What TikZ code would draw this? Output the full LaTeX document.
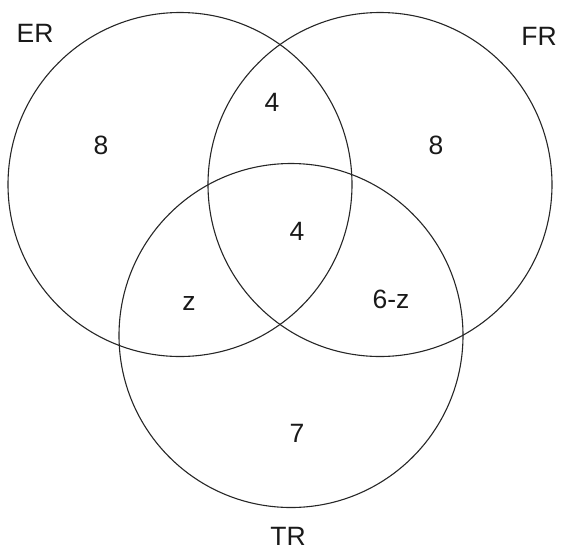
\documentclass[tikz,border=0pt]{standalone}
\usepackage{fontspec}
\setmainfont{Liberation Sans}
\begin{document}
\begin{tikzpicture}[x=1pt,y=-1pt,
  setcircle/.style={circle, draw=black!85, line width=1.1pt, minimum size=344pt, inner sep=0pt},
  lbl/.style={anchor=base, inner sep=0pt, font=\fontsize{26.5}{30}\selectfont, text=black!90}]
\useasboundingbox (0,0) rectangle (563,550);
\node[setcircle] (ER) at (180,184.5) {};
\node[setcircle] (FR) at (380,184.5) {};
\node[setcircle] (TR) at (291,335.5) {};
\node[lbl] (lER) at (35,42) {ER};
\node[lbl] (lFR) at (539,45) {FR};
\node[lbl] (lTR) at (288,545.5) {TR};
\node[lbl] (nE) at (101,154) {8};
\node[lbl] (nF) at (436,154) {8};
\node[lbl] (nEF) at (272,111) {4};
\node[lbl] (nEFT) at (297,240) {4};
\node[lbl] (nET) at (189,310) {z};
\node[lbl] (nFT) at (391,308) {6-z};
\node[lbl] (nT) at (297,442) {7};
\end{tikzpicture}
\end{document}
